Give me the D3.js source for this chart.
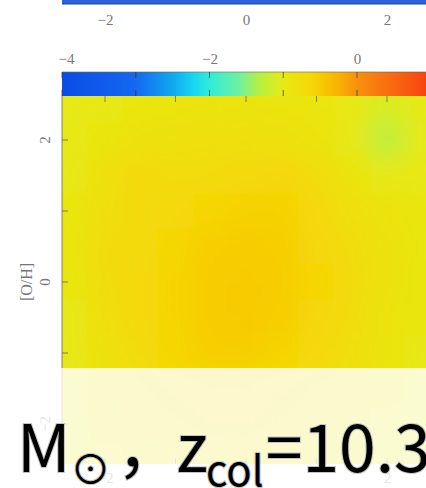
<!DOCTYPE html>
<html lang="en">
	<head>
		<meta charset="utf-8">
		<title>[O/H] map</title>
		<script type="text/javascript" src="https://d3js.org/d3.v7.min.js"></script>
		<style type="text/css">
			body{ margin:0; background:#fff; overflow:hidden; }
			.tick text{ font-family:"Liberation Serif", serif; font-size:15px; fill:#777; }
		</style>
	</head>
	<body>
		<script type="text/javascript">

			var w = 426;
			var h = 488;

			// colour bar: value stops of the colour map
			var cbStops = [-4, -3, -2.5, -2.2, -2, -1.6, -1.3, -1, -0.6, -0.3, 0, 0.5, 0.94];
			var cbTicks = [-4, -2, 0];
			var topTicks = [-2, 0, 2];
			var xTicks = [-2, -1, 0, 1, 2];
			var yTicks = [2, 1, 0, -1, -2];

			// map cells: centres in x and [O/H]
			var cellX = [-2.5, -2, -1.5, -1, -0.5, 0, 0.5, 1, 1.5, 2, 2.5];
			var cellY = [2.5, 2, 1.5, 1, 0.5, 0, -0.5, -1, -1.5, -2, -2.5];
			var cellV = [
				[-1.0, -0.95, -0.9, -0.88, -0.85, -0.85, -0.88, -0.9, -0.95, -1.1, -1.0],
				[-0.98, -0.9, -0.82, -0.8, -0.78, -0.78, -0.8, -0.85, -0.95, -1.3, -1.0],
				[-0.95, -0.8, -0.65, -0.72, -0.7, -0.65, -0.62, -0.72, -0.85, -0.95, -0.95],
				[-0.92, -0.75, -0.68, -0.65, -0.6, -0.55, -0.55, -0.65, -0.78, -0.85, -0.92],
				[-0.9, -0.7, -0.68, -0.6, -0.52, -0.5, -0.52, -0.62, -0.72, -0.82, -0.9],
				[-0.92, -0.72, -0.65, -0.58, -0.5, -0.48, -0.5, -0.6, -0.7, -0.82, -0.92],
				[-0.95, -0.75, -0.65, -0.58, -0.5, -0.48, -0.52, -0.62, -0.72, -0.85, -0.92],
				[-0.95, -0.8, -0.7, -0.6, -0.52, -0.52, -0.58, -0.65, -0.75, -0.85, -0.95],
				[-1.0, -0.85, -0.75, -0.7, -0.65, -0.65, -0.7, -0.75, -0.8, -0.9, -1.0],
				[-1.0, -0.9, -0.8, -0.75, -0.7, -0.7, -0.75, -0.8, -0.85, -0.95, -1.0],
				[-1.0, -0.95, -0.9, -0.85, -0.85, -0.85, -0.85, -0.9, -0.9, -1.0, -1.0]
			];

			var colours = ["#0a4ce6", "#1468f0", "#10a8f0", "#18d8f0", "#30ecd8", "#70f0a0",
						   "#bcf03c", "#e6ea14", "#f6d606", "#f8b800", "#f89010", "#f86810", "#f84410"];

			var color = d3.scaleLinear().domain(cbStops).range(colours).clamp(true);

			var svg = d3.select("body")
						.append("svg")
						.attr("width", w)
						.attr("height", h);

			var defs = svg.append("defs");

			// scales
			var x = d3.scaleLinear().domain([-2, 2]).range([105, 387]);
			var y = d3.scaleLinear().domain([2, 0]).range([140, 282]);
			var cx = d3.scaleLinear().domain([-4, 0]).range([62, 357]);

			var pL = 62, pR = 440, pT = 96, pB = 464;

			// strip of the upper colour bar
			svg.append("rect")
				.attr("x", pL).attr("y", -10)
				.attr("width", pR - pL).attr("height", 14)
				.style("fill", "#2a62de");
			svg.append("line")
				.attr("x1", pL).attr("x2", pR)
				.attr("y1", 4).attr("y2", 4)
				.style("stroke", "#34407a");

			var gTop = svg.append("g").attr("transform", "translate(0,6)")
				.call(d3.axisBottom(x).tickValues(topTicks).tickSize(0).tickPadding(8)
					.tickFormat(d3.format("d")));
			gTop.select(".domain").remove();

			// colour bar
			var grad = defs.append("linearGradient").attr("id", "cb")
				.attr("gradientUnits", "userSpaceOnUse")
				.attr("x1", cx(-4)).attr("x2", cx(0.94)).attr("y1", 0).attr("y2", 0);
			grad.selectAll("stop")
				.data(d3.range(0, 1.001, 0.02))
				.enter()
				.append("stop")
				.attr("offset", function(d){ return d; })
				.attr("stop-color", function(d){ return color(-4 + d * 4.94); });

			svg.append("rect")
				.attr("x", pL).attr("y", 72)
				.attr("width", pR - pL).attr("height", 24)
				.style("fill", "url(#cb)");
			svg.append("line")
				.attr("x1", pL).attr("x2", pR).attr("y1", 72).attr("y2", 72)
				.style("stroke", "#6a6a40").style("opacity", 0.6);

			var gCb = svg.append("g").attr("transform", "translate(0,72)")
				.call(d3.axisTop(cx).tickValues(cbTicks).tickSize(0).tickPadding(8)
					.tickFormat(d3.format("d")));
			gCb.select(".domain").remove();
			gCb.selectAll(".tick text").attr("dx", function(d){ return d === -4 ? 4 : 0; });

			// ticks inside the colour bar
			var cbMinor = d3.range(-4, 1, 1);
			svg.selectAll(".cbtick")
				.data(cbMinor)
				.enter()
				.append("path")
				.attr("class", "cbtick")
				.attr("d", function(d){ return "M" + cx(d) + ",72v6M" + cx(d) + ",96v-6"; })
				.style("stroke", "#333").style("opacity", 0.7);

			// the map
			defs.append("clipPath").attr("id", "frame")
				.append("rect")
				.attr("x", pL).attr("y", pT)
				.attr("width", pR - pL).attr("height", pB - pT);
			defs.append("filter").attr("id", "soft")
				.attr("x", "-5%").attr("y", "-5%").attr("width", "110%").attr("height", "110%")
				.append("feGaussianBlur").attr("stdDeviation", 12).attr("edgeMode", "duplicate");

			var cells = [];
			cellY.forEach(function(yv, i){
				cellX.forEach(function(xv, j){
					cells.push({x: xv, y: yv, v: cellV[i][j]});
				});
			});

			var map = svg.append("g").attr("clip-path", "url(#frame)");
			map.append("rect")
				.attr("x", pL).attr("y", pT)
				.attr("width", pR - pL).attr("height", pB - pT)
				.style("fill", color(-0.95));
			map.append("g").attr("filter", "url(#soft)")
				.selectAll("rect")
				.data(cells)
				.enter()
				.append("rect")
				.attr("x", function(d){ return x(d.x - 0.25); })
				.attr("y", function(d){ return y(d.y + 0.25); })
				.attr("width", x(0.5) - x(0))
				.attr("height", y(0) - y(0.5))
				.style("fill", function(d){ return color(d.v); });

			// frame and inner ticks
			svg.append("line")
				.attr("x1", pL).attr("x2", pL).attr("y1", pT).attr("y2", pB)
				.style("stroke", "#555").style("opacity", 0.7);

			svg.selectAll(".xtick")
				.data(xTicks)
				.enter()
				.append("path")
				.attr("class", "xtick")
				.attr("d", function(d){ return "M" + x(d) + "," + pT + "v6M" + x(d) + "," + pB + "v-6"; })
				.style("stroke", "#555").style("opacity", 0.7);

			svg.selectAll(".ytick")
				.data(yTicks)
				.enter()
				.append("path")
				.attr("class", "ytick")
				.attr("d", function(d){ return "M" + pL + "," + y(d) + "h6"; })
				.style("stroke", "#555").style("opacity", 0.7);

			// y labels
			svg.selectAll(".ylab")
				.data(yTicks.filter(function(d){ return d % 2 === 0; }))
				.enter()
				.append("text")
				.attr("class", "ylab")
				.attr("transform", function(d){ return "translate(50," + y(d) + ") rotate(-90)"; })
				.attr("text-anchor", "middle")
				.style("font-family", "Liberation Serif, serif")
				.style("font-size", "15px")
				.style("fill", "#777")
				.text(function(d){ return d < 0 ? "\u2212" + (-d) : d; });

			svg.append("text")
				.attr("transform", "translate(32," + y(0) + ") rotate(-90)")
				.attr("text-anchor", "middle")
				.style("font-family", "Liberation Serif, serif")
				.style("font-size", "16px")
				.style("fill", "#777")
				.text("[O/H]");

			// x labels under the map
			var gX = svg.append("g").attr("transform", "translate(0," + pB + ")")
				.call(d3.axisBottom(x).tickValues(topTicks).tickSize(0).tickPadding(8)
					.tickFormat(d3.format("d")));
			gX.select(".domain").remove();

			// caption band
			svg.append("rect")
				.attr("x", 0).attr("y", 368)
				.attr("width", w).attr("height", h - 368)
				.style("fill", "#fff").style("opacity", 0.8);

			var cap = svg.append("text")
				.attr("x", 17).attr("y", 472)
				.style("font-family", "Noto Sans CJK JP, Noto Sans, sans-serif")
				.style("font-size", "66px")
				.style("fill", "#000")
				.style("stroke", "#c4c4c4")
				.style("stroke-width", 2)
				.style("paint-order", "stroke");
			cap.append("tspan").text("M");
			cap.append("tspan").attr("dy", 12).style("font-size", "40px").text("\u2299");
			cap.append("tspan").attr("dy", -12).attr("dx", 6).text("\uff0c");
			cap.append("tspan").attr("dx", -6).text("z");
			cap.append("tspan").attr("dy", 14).attr("dx", -2).style("font-size", "42px").text("col");
			cap.append("tspan").attr("dy", -14).attr("dx", 2).text("=10.3");

		</script>
	</body>
</html>
